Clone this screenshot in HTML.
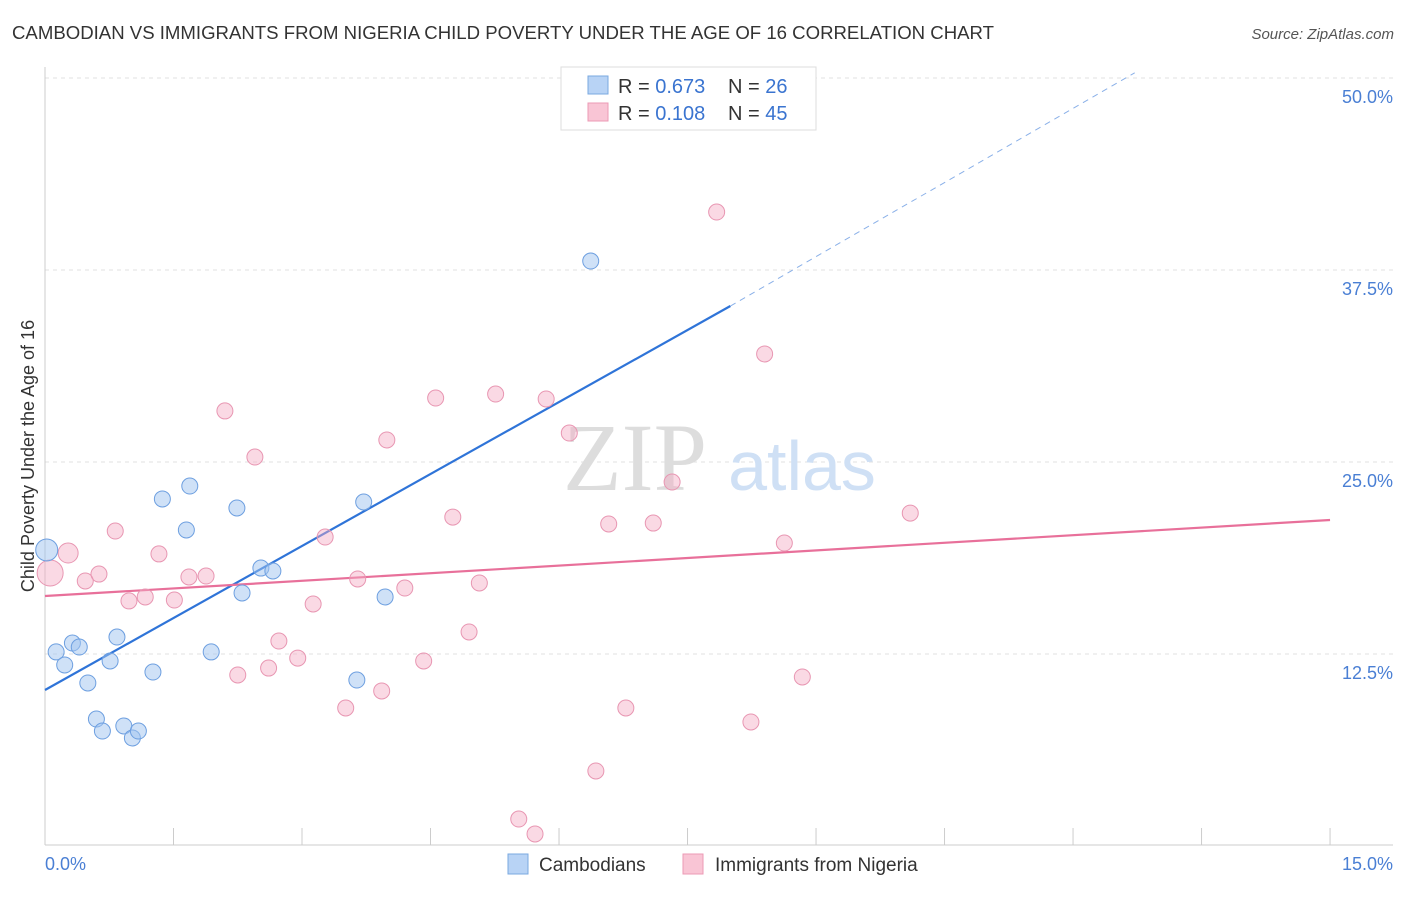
<!DOCTYPE html>
<html><head><meta charset="utf-8"><style>
body{margin:0;background:#fff;font-family:"Liberation Sans",sans-serif;}
</style></head><body>
<svg id="chart" width="1406" height="892" xmlns="http://www.w3.org/2000/svg">
<text x="12" y="39" font-size="18" fill="#333" textLength="982" lengthAdjust="spacingAndGlyphs">CAMBODIAN VS IMMIGRANTS FROM NIGERIA CHILD POVERTY UNDER THE AGE OF 16 CORRELATION CHART</text>
<text x="1394" y="39" font-size="15" fill="#555" font-style="italic" text-anchor="end">Source: ZipAtlas.com</text>
<g id="grid"></g>
<text x="635" y="490" font-size="96" fill="#ddd" font-family="Liberation Serif,serif" text-anchor="middle">ZIP</text>
<text x="802" y="490" font-size="70" fill="#cfe0f5" text-anchor="middle">atlas</text>
<line x1="45" y1="67" x2="45" y2="845" stroke="#ccc"/>
<line x1="45" y1="845" x2="1393" y2="845" stroke="#ccc"/>
<g id="ticks"></g>
<text x="34" y="456" font-size="18" fill="#333" text-anchor="middle" transform="rotate(-90 34 456)">Child Poverty Under the Age of 16</text>
<text x="45" y="870" font-size="18" fill="#4a7fd4">0.0%</text>
<text x="1393" y="870" font-size="18" fill="#4a7fd4" text-anchor="end">15.0%</text>
<g id="lines"></g>
<g id="points"></g>
<g>
<rect x="561" y="67" width="255" height="63" fill="#fff" stroke="#ddd"/>
<rect x="588" y="76" width="20" height="18" fill="#b8d3f5" stroke="#7aa8e0"/>
<rect x="588" y="103" width="20" height="18" fill="#f9c5d5" stroke="#ec9ab5"/>
<text x="618" y="93" font-size="20" fill="#333">R = <tspan fill="#3a74d0">0.673</tspan></text>
<text x="728" y="93" font-size="20" fill="#333">N = <tspan fill="#3a74d0">26</tspan></text>
<text x="618" y="120" font-size="20" fill="#333">R = <tspan fill="#3a74d0">0.108</tspan></text>
<text x="728" y="120" font-size="20" fill="#333">N = <tspan fill="#3a74d0">45</tspan></text>
</g>
<g>
<rect x="508" y="854" width="20" height="20" fill="#b8d3f5" stroke="#7aa8e0"/>
<text x="539" y="871" font-size="19" fill="#333">Cambodians</text>
<rect x="683" y="854" width="20" height="20" fill="#f9c5d5" stroke="#ec9ab5"/>
<text x="715" y="871" font-size="19" fill="#333">Immigrants from Nigeria</text>
</g>
</svg>
<script>
const yTicks=[12.5,25,37.5,50];
const yTickLabels=["12.5%","25.0%","37.5%","50.0%"];
const xTicks=[1.5,3,4.5,6,7.5,9,10.5,12,13.5,15];
const blueX=[0.02,0.13,0.23,0.32,0.4,0.5,0.6,0.67,0.76,0.84,0.92,1.02,1.09,1.26,1.37,1.65,1.69,1.94,2.24,2.3,2.52,2.66,3.64,3.72,3.97,6.37];
const blueY=[19.34,12.7,11.85,13.28,13.02,10.68,8.33,7.55,12.11,13.67,7.88,7.1,7.55,11.39,22.66,20.64,23.5,12.7,22.07,16.54,18.16,17.97,10.87,22.46,16.28,38.15];
const blueR=[11,8,8,8,8,8,8,8,8,8,8,8,8,8,8,8,8,8,8,8,8,8,8,8,8,8];
const pinkX=[0.06,0.27,0.47,0.63,0.82,0.98,1.17,1.33,1.51,1.68,1.88,2.1,2.25,2.45,2.61,2.73,2.95,3.13,3.27,3.51,3.65,3.93,3.99,4.2,4.42,4.56,4.76,4.95,5.07,5.26,5.53,5.72,5.85,6.12,6.43,6.58,6.78,7.1,7.32,7.84,8.24,8.4,8.63,8.84,10.1];
const pinkY=[17.84,19.14,17.32,17.77,20.57,16.02,16.28,19.08,16.08,17.58,17.64,28.39,11.2,25.39,11.65,13.41,12.3,15.82,20.18,9.05,17.45,10.16,26.5,16.86,12.11,29.23,21.48,14.0,17.19,29.49,1.82,0.85,29.17,26.95,4.95,21.03,9.05,21.09,23.76,41.34,8.14,32.1,19.79,11.07,21.74];
const pinkR=[13,10,8,8,8,8,8,8,8,8,8,8,8,8,8,8,8,8,8,8,8,8,8,8,8,8,8,8,8,8,8,8,8,8,8,8,8,8,8,8,8,8,8,8,8];
const blueTrend=[0,10.22,8.0,35.22,12.72,50.4];
const pinkTrend=[0,16.34,15,21.29];
const NS="http://www.w3.org/2000/svg";
const X=v=>45+v*85.67, Y=v=>847-v*15.36;
function mk(tag,attrs,parent){const e=document.createElementNS(NS,tag);for(const k in attrs)e.setAttribute(k,attrs[k]);document.getElementById(parent).appendChild(e);return e;}
yTicks.forEach((t,i)=>{
 const g=mk('line',{x1:45,x2:1393,y1:Y(t)-1,y2:Y(t)-1,stroke:'#e2e2e2','stroke-dasharray':'4,4'},'grid');
 
 
 const l=mk('text',{x:1393,y:Y(t)+24,'font-size':18,fill:'#4a7fd4','text-anchor':'end'},'grid');
 l.textContent=yTickLabels[i];
 
 
});
xTicks.forEach(t=>{
 const l=mk('line',{x1:X(t),x2:X(t),y1:828,y2:845,stroke:'#ccc'},'ticks');
 
 
});
let b=mk('line',{x1:X(blueTrend[0]),y1:Y(blueTrend[1]),x2:X(blueTrend[2]),y2:Y(blueTrend[3]),stroke:'#2f74d8','stroke-width':2.2},'lines');


b=mk('line',{x1:X(blueTrend[2]),y1:Y(blueTrend[3]),x2:X(blueTrend[4]),y2:Y(blueTrend[5]),stroke:'#8ab0e8','stroke-width':1,'stroke-dasharray':'6,5'},'lines');


b=mk('line',{x1:X(pinkTrend[0]),y1:Y(pinkTrend[1]),x2:X(pinkTrend[2]),y2:Y(pinkTrend[3]),stroke:'#e8709a','stroke-width':2.2},'lines');


pinkX.forEach((x,i)=>{
 const c=mk('circle',{cx:X(x),cy:Y(pinkY[i]),r:pinkR[i],fill:'rgba(245,170,195,0.45)',stroke:'#e896b2','stroke-width':1},'points');
 
 
});
blueX.forEach((x,i)=>{
 const c=mk('circle',{cx:X(x),cy:Y(blueY[i]),r:blueR[i],fill:'rgba(160,195,240,0.5)',stroke:'#6d9fe0','stroke-width':1},'points');
 
 
});
</script>
</body></html>
